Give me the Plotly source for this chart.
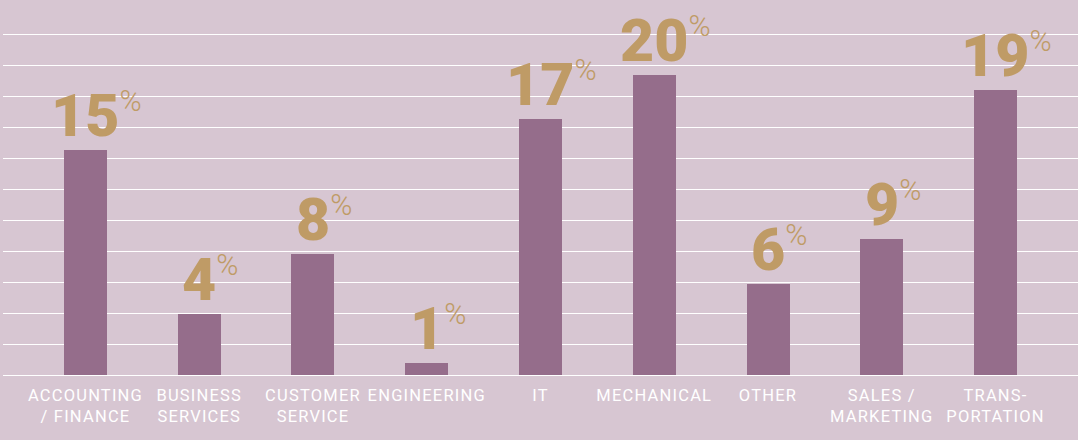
import plotly.graph_objects as go

categories = ["ACCOUNTING<br>/ FINANCE", "BUSINESS<br>SERVICES", "CUSTOMER<br>SERVICE",
              "ENGINEERING", "IT", "MECHANICAL", "OTHER", "SALES /<br>MARKETING", "TRANS-<br>PORTATION"]
values = [15, 4.1, 8.1, 0.8, 17.1, 20, 6.1, 9.1, 19]
labels = ["15", "4", "8", "1", "17", "20", "6", "9", "19"]

BG = "#d7c6d2"
BAR = "#956d8b"
GOLD = "#bf9b66"

x = list(range(len(categories)))
SP = "<span style='letter-spacing:1.2px'>"
ticktext = [SP + c.replace("<br>", "</span><br>" + SP) + "</span>" for c in categories]

fig = go.Figure()
fig.add_trace(go.Bar(x=x, y=values, marker=dict(color=BAR, line=dict(width=0)),
                     width=0.378, hoverinfo="skip"))

for xi, v, lab in zip(x, values, labels):
    fig.add_annotation(
        x=xi, y=v, xref="x", yref="y",
        text=f"{lab}<sup><span style='font-size:30px;font-weight:300'>%</span></sup>",
        showarrow=False, xanchor="center", yanchor="bottom",
        xshift=11, yshift=-2,
        font=dict(family="Roboto", size=59, color=GOLD, weight=900),
    )

fig.update_layout(
    width=1078, height=440,
    margin=dict(l=3, r=0, t=3, b=65),
    paper_bgcolor=BG, plot_bgcolor=BG,
    showlegend=False,
    bargap=0,
    xaxis=dict(range=[-0.725, 8.725], tickmode="array", tickvals=x, ticktext=ticktext,
               tickangle=0, automargin=False,
               showgrid=False, zeroline=False, showline=False,
               ticks="outside", ticklen=0, ticklabelstandoff=5,
               tickfont=dict(family="Roboto", size=16.5, color="white")),
    yaxis=dict(range=[0, 24.81], tick0=0, dtick=24.8 / 12, showticklabels=False,
               automargin=False,
               showgrid=True, gridcolor="white", gridwidth=1.2,
               zeroline=True, zerolinecolor="white", zerolinewidth=1.2, showline=False),
)

fig.write_html("out.html")
